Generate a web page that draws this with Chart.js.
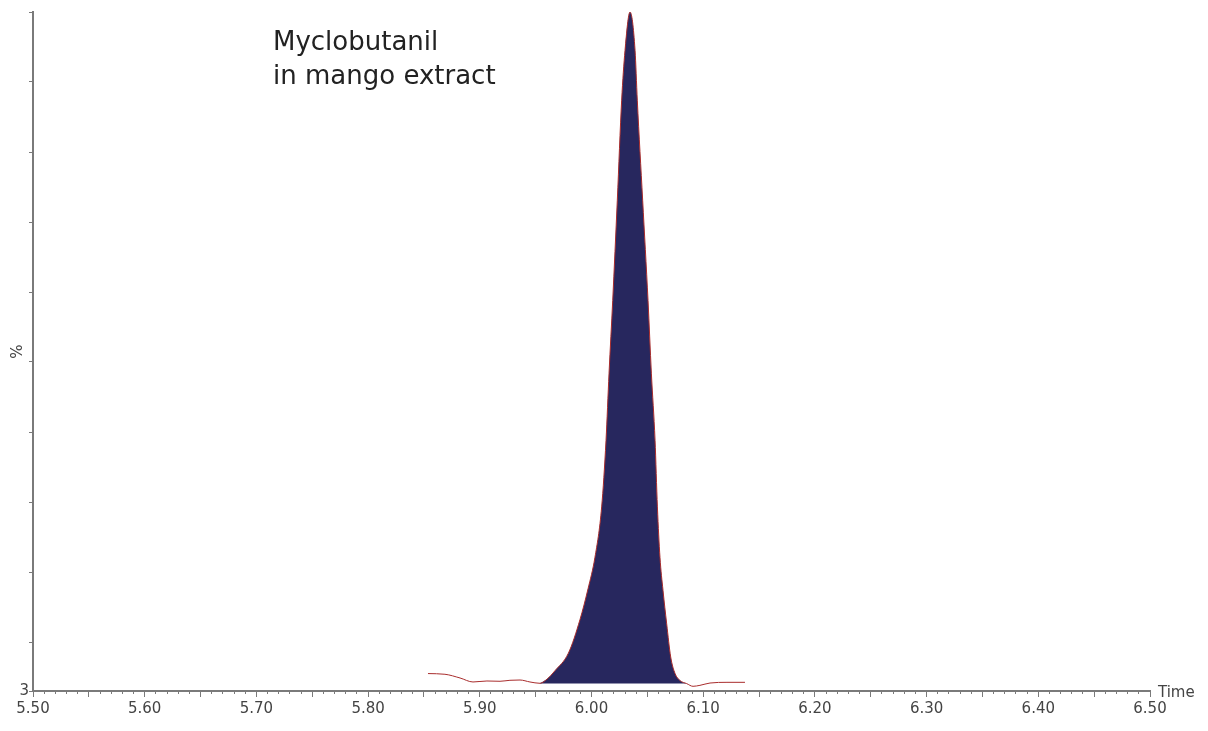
<!DOCTYPE html>
<html>
<head>
<meta charset="utf-8">
<script src="https://cdn.jsdelivr.net/npm/chart.js@4.4.1/dist/chart.umd.min.js"></script>
<style>
    html, body { margin: 0; padding: 0; background: #fff; }
    #wrap { width: 1208px; height: 731px; }
</style>
</head>
<body>
<div id="wrap"><canvas id="chromatogram" width="1208" height="731"></canvas></div>
<script>
const retentionTimes = [
    5.8536, 5.8688, 5.8823, 5.8939, 5.9064, 5.9181, 5.9270, 5.9360, 5.9449, 5.9539,
    5.9602, 5.9673, 5.9793, 5.9897, 5.9969, 6.0031, 6.0091, 6.0130, 6.0157, 6.0190,
    6.0231, 6.0270, 6.0300, 6.0345, 6.0390, 6.0410, 6.0458, 6.0506, 6.0536, 6.0569,
    6.0590, 6.0613, 6.0640, 6.0673, 6.0709, 6.0748, 6.0792, 6.0852, 6.0909, 6.0971,
    6.1061, 6.1213, 6.1374
];
const intensityPct = [
    5.49, 5.39, 4.86, 4.29, 4.43, 4.39, 4.53, 4.57, 4.29, 4.10,
    4.70, 5.90, 8.40, 13.2, 17.6, 22.1, 29.3, 38.8, 48.4, 58.8,
    73.1, 87.4, 94.5, 100, 94.5, 87.4, 73.1, 58.8, 48.4, 38.8,
    29.3, 22.1, 17.4, 12.6, 7.86, 5.50, 4.50, 4.06, 3.67, 3.81,
    4.14, 4.24, 4.24
];

// 2. Integração do pico
const integrationStart = 5.9539;
const integrationEnd = 6.0852;
const integrationBaseline = 4.08;

// 3. Eixos e textos
const timeMin = 5.50;
const timeMax = 6.50;
const pctMin = 3;
const pctMax = 100;
const xTickLabels = ['5.50', '5.60', '5.70', '5.80', '5.90', '6.00', '6.10', '6.20', '6.30', '6.40', '6.50'];
const yOffsetLabel = '3';
const yAxisTitle = '%';
const xAxisTitle = 'Time';
const annotationLines = ['Myclobutanil', 'in mango extract'];

const tracePoints = retentionTimes.map((t, i) => ({ x: t, y: intensityPct[i] }));
const peakPoints = tracePoints.filter(p => p.x >= integrationStart && p.x <= integrationEnd);

const FONT = '"DejaVu Sans", Verdana, sans-serif';
const AXIS_GREY = '#7a7a7a';

// 4. Textos extras (rótulo e "Time")
const labelsPlugin = {
    id: 'chromLabels',
    afterDraw(chart) {
        const { ctx, chartArea } = chart;
        ctx.save();
        ctx.fillStyle = '#222';
        ctx.font = '26px ' + FONT;
        ctx.textBaseline = 'alphabetic';
        annotationLines.forEach((line, i) => {
            ctx.fillText(line, chartArea.left + 240, chartArea.top + 38 + i * 34);
        });
        ctx.fillStyle = '#444';
        ctx.font = '15px ' + FONT;
        ctx.textBaseline = 'middle';
        ctx.fillText(xAxisTitle, chartArea.right + 8, chartArea.bottom + 2);
        ctx.restore();
    }
};

const ctx = document.getElementById('chromatogram').getContext('2d');
new Chart(ctx, {
    type: 'line',
    data: {
        datasets: [
            {
                label: 'trace',
                data: tracePoints,
                borderColor: '#a82c2c',
                borderWidth: 1,
                pointRadius: 0,
                fill: false,
                cubicInterpolationMode: 'monotone',
                order: 0
            },
            {
                label: 'peak',
                data: peakPoints,
                borderColor: '#27275e',
                borderWidth: 0,
                backgroundColor: '#27275e',
                pointRadius: 0,
                fill: { value: integrationBaseline },
                cubicInterpolationMode: 'monotone',
                order: 1
            }
        ]
    },
    options: {
        responsive: false,
        animation: false,
        layout: { padding: { top: 12, right: 58, left: 0, bottom: 0 } },
        plugins: {
            legend: { display: false },
            tooltip: { enabled: false }
        },
        scales: {
            x: {
                type: 'linear',
                min: timeMin,
                max: timeMax,
                afterFit: s => { s.height = 40; },
                border: { color: AXIS_GREY, width: 2 },
                grid: { drawOnChartArea: false, tickLength: 3, color: AXIS_GREY, tickColor: AXIS_GREY },
                ticks: {
                    stepSize: 0.01,
                    autoSkip: false,
                    maxRotation: 0,
                    maxTicksLimit: 200,
                    padding: 6,
                    color: '#444',
                    font: { family: FONT, size: 15 },
                    callback: v => {
                        const lbl = Number(v).toFixed(2);
                        return xTickLabels.includes(lbl) ? lbl : '';
                    }
                }
            },
            xMid: {
                type: 'linear',
                axis: 'x',
                position: { y: pctMin },
                min: timeMin,
                max: timeMax,
                border: { display: false },
                grid: { drawOnChartArea: false, tickLength: 6, tickColor: AXIS_GREY },
                ticks: { stepSize: 0.05, display: false, maxTicksLimit: 50 }
            },
            y: {
                type: 'linear',
                min: pctMin,
                max: pctMax,
                afterFit: s => { s.width = 33; },
                border: { color: AXIS_GREY, width: 2 },
                grid: { drawOnChartArea: false, tickLength: 4, color: AXIS_GREY, tickColor: AXIS_GREY },
                title: {
                    display: true,
                    text: yAxisTitle,
                    color: '#444',
                    font: { family: FONT, size: 15 },
                    padding: { top: 9, bottom: 0 }
                },
                ticks: {
                    stepSize: 10,
                    maxTicksLimit: 20,
                    padding: 0,
                    color: '#444',
                    font: { family: FONT, size: 15 },
                    callback: v => (v === pctMin ? yOffsetLabel : '')
                }
            }
        }
    },
    plugins: [labelsPlugin]
});
</script>
</body>
</html>
